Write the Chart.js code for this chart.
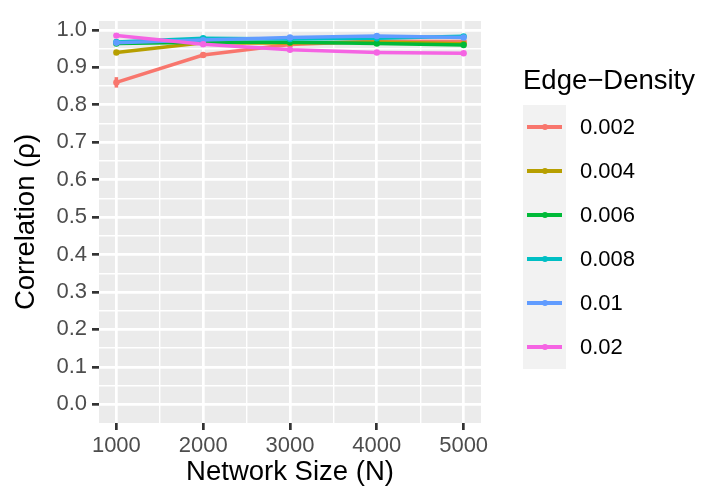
<!DOCTYPE html>
<html>
<head>
<meta charset="utf-8">
<script src="https://cdn.jsdelivr.net/npm/chart.js@4"></script>
<style>
  html, body { margin: 0; padding: 0; background: #fff; }
  #wrap { position: relative; width: 717px; height: 489px; font-family: "Liberation Sans", Arial, sans-serif; }
  #plot { position: absolute; left: 0; top: 0; }
  .lg { position: absolute; display: flex; align-items: center; color: #000; white-space: nowrap; }
</style>
</head>
<body>
<div id="wrap">
  <canvas id="plot" width="717" height="489"></canvas>
</div>
<script>
// data
const sizes = [1000, 2000, 3000, 4000, 5000]
const densities = ['0.002', '0.004', '0.006', '0.008', '0.01', '0.02']
const colors = ['#F8766D', '#B79F00', '#00BA38', '#00BFC4', '#619CFF', '#F564E3']
const rho002 = [0.860, 0.933, 0.961, 0.970, 0.969]
const rho004 = [0.940, 0.966, 0.965, 0.968, 0.963]
const rho006 = [0.964, 0.967, 0.967, 0.964, 0.960]
const rho008 = [0.968, 0.978, 0.976, 0.978, 0.983]
const rho01 = [0.966, 0.973, 0.980, 0.984, 0.980]
const rho02 = [0.985, 0.962, 0.947, 0.940, 0.938]
const err002 = [0.014, 0.003, 0.002, 0.002, 0.002]
const errSmall = [0.002, 0.002, 0.002, 0.002, 0.002]
const xMajor = [1000, 2000, 3000, 4000, 5000]
const xMinor = [1500, 2500, 3500, 4500]
const yMajor = [0.0, 0.1, 0.2, 0.3, 0.4, 0.5, 0.6, 0.7, 0.8, 0.9, 1.0]
const yMinor = [0.05, 0.15, 0.25, 0.35, 0.45, 0.55, 0.65, 0.75, 0.85, 0.95]

const series = [rho002, rho004, rho006, rho008, rho01, rho02]
const errors = [err002, errSmall, errSmall, errSmall, errSmall, errSmall]

const FONT = '"Liberation Sans", Arial, sans-serif'
const isMajorX = v => xMajor.includes(v)
const isMajorY = v => yMajor.some(m => Math.abs(m - v) < 1e-6)

const panelBg = {
  id: 'panelBg',
  beforeDraw(chart) {
    const a = chart.chartArea, c = chart.ctx
    c.save()
    c.fillStyle = '#EBEBEB'
    c.fillRect(a.left, a.top, a.right - a.left, a.bottom - a.top)
    c.restore()
  }
}

const errBars = {
  id: 'errBars',
  beforeDatasetsDraw(chart) {
    const c = chart.ctx, xs = chart.scales.x, ys = chart.scales.y
    c.save()
    c.lineWidth = 3.5
    series.forEach((vals, i) => {
      c.strokeStyle = colors[i]
      vals.forEach((v, j) => {
        const x = xs.getPixelForValue(sizes[j])
        c.beginPath()
        c.moveTo(x, ys.getPixelForValue(v - errors[i][j]))
        c.lineTo(x, ys.getPixelForValue(v + errors[i][j]))
        c.stroke()
      })
    })
    c.restore()
  }
}

new Chart(document.getElementById('plot'), {
  type: 'line',
  data: {
    datasets: series.map((vals, i) => ({
      label: densities[i],
      data: vals.map((v, j) => ({ x: sizes[j], y: v })),
      borderColor: colors[i],
      backgroundColor: colors[i],
      borderWidth: 3.5,
      pointRadius: 3.2,
      pointBorderWidth: 0,
      tension: 0,
      order: series.length - i
    }))
  },
  options: {
    responsive: false,
    animation: false,
    layout: { padding: { left: 0, right: 236, top: 21, bottom: 0 } },
    plugins: { legend: { display: false }, tooltip: { enabled: false } },
    scales: {
      x: {
        type: 'linear',
        min: 800,
        max: 5200,
        afterBuildTicks: s => { s.ticks = xMajor.concat(xMinor).sort((a, b) => a - b).map(v => ({ value: v })) },
        afterFit: s => { s.height = 66 },
        border: { display: false },
        grid: {
          color: '#FFFFFF',
          lineWidth: ctx => isMajorX(ctx.tick.value) ? 2.7 : 1.4,
          tickColor: ctx => isMajorX(ctx.tick.value) ? '#333333' : 'rgba(0,0,0,0)',
          tickWidth: 2.7,
          tickLength: 7,
          drawTicks: true
        },
        ticks: {
          autoSkip: false,
          maxRotation: 0,
          padding: 3,
          color: '#4D4D4D',
          font: { family: FONT, size: 22 },
          callback: v => isMajorX(v) ? String(v) : ''
        },
        title: {
          display: true,
          text: 'Network Size (N)',
          color: '#000000',
          font: { family: FONT, size: 27.5 },
          padding: { top: 0, bottom: 0 }
        }
      },
      y: {
        type: 'linear',
        min: -0.05,
        max: 1.024,
        afterBuildTicks: s => { s.ticks = yMajor.concat(yMinor).sort((a, b) => a - b).map(v => ({ value: v })) },
        afterFit: s => { s.width = 99 },
        border: { display: false },
        grid: {
          color: '#FFFFFF',
          lineWidth: ctx => isMajorY(ctx.tick.value) ? 2.7 : 1.4,
          tickColor: ctx => isMajorY(ctx.tick.value) ? '#333333' : 'rgba(0,0,0,0)',
          tickWidth: 2.7,
          tickLength: 7,
          drawTicks: true
        },
        ticks: {
          autoSkip: false,
          padding: 5,
          color: '#4D4D4D',
          font: { family: FONT, size: 22 },
          callback: v => isMajorY(v) ? v.toFixed(1) : ''
        },
        title: {
          display: true,
          text: 'Correlation (ρ)',
          color: '#000000',
          font: { family: FONT, size: 27.5 },
          padding: { top: 10, bottom: 0 }
        }
      }
    }
  },
  plugins: [panelBg, errBars]
})

// legend, built from the same arrays
const wrap = document.getElementById('wrap')
function addDiv(style, html) {
  const d = document.createElement('div')
  Object.assign(d.style, style)
  if (html !== undefined) d.innerHTML = html
  wrap.appendChild(d)
  return d
}
const title = addDiv({ left: '523px', top: '60px', height: '40px', fontSize: '27.5px' }, 'Edge\u2212Density')
title.className = 'lg'
const keyTop = 105, keyH = 44
addDiv({ position: 'absolute', left: '523px', top: keyTop + 'px', width: '43px', height: (keyH * densities.length) + 'px', background: '#F2F2F2' })
densities.forEach((d, i) => {
  const cy = keyTop + keyH * i + keyH / 2
  addDiv({ position: 'absolute', left: '527px', top: (cy - 1.75) + 'px', width: '35px', height: '3.5px', background: colors[i] })
  addDiv({ position: 'absolute', left: '541.8px', top: (cy - 3.2) + 'px', width: '6.4px', height: '6.4px', borderRadius: '50%', background: colors[i] })
  const t = addDiv({ left: '580px', top: (cy - 20) + 'px', height: '40px', fontSize: '22px' }, d)
  t.className = 'lg'
})
</script>
</body>
</html>
